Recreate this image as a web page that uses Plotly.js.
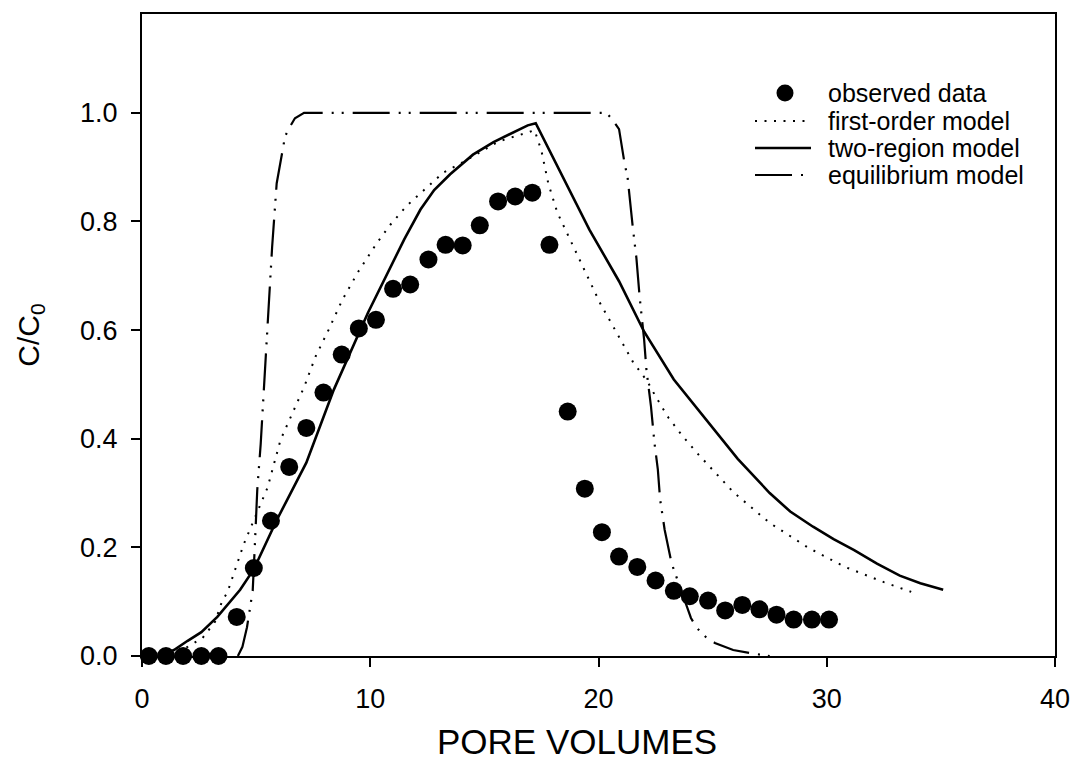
<!DOCTYPE html>
<html>
<head>
<meta charset="utf-8">
<script src="https://cdn.plot.ly/plotly-3.0.1.min.js"></script>
<style>
  html, body { margin: 0; padding: 0; background: #fff; }
  #chart { width: 1076px; height: 772px; }
</style>
</head>
<body>
<div id="chart"></div>
<script>
// Breakthrough curve: relative concentration vs. pore volumes
const obsX = [0.3, 1.05, 1.8, 2.6, 3.35, 4.15, 4.9, 5.65, 6.45, 7.2, 7.95, 8.75, 9.5, 10.25, 11.0, 11.75,
  12.55, 13.3, 14.05, 14.8, 15.6, 16.35, 17.1, 17.85, 18.65, 19.4, 20.15, 20.9, 21.7, 22.5, 23.3, 24.0,
  24.8, 25.55, 26.3, 27.05, 27.8, 28.55, 29.35, 30.1];
const obsY = [0, 0, 0, 0, 0, 0.072, 0.162, 0.249, 0.348, 0.42, 0.485, 0.555, 0.603, 0.619, 0.676, 0.684,
  0.73, 0.757, 0.756, 0.793, 0.837, 0.846, 0.853, 0.757, 0.45, 0.308, 0.228, 0.183, 0.164, 0.139, 0.12, 0.11,
  0.102, 0.084, 0.094, 0.086, 0.076, 0.067, 0.067, 0.067];

const firstOrderX = [1.2, 2.0, 2.65, 3.2, 3.5, 3.75, 4.45, 4.97, 5.5, 6.07, 6.64, 7.1, 7.6, 8.18, 8.78, 9.48,
  10.3, 10.88, 11.6, 12.45, 13.2, 14.1, 15.6, 16.9, 17.2, 17.5, 17.8, 18.2, 18.55, 19.3, 20.1, 20.8, 21.5,
  22.15, 22.5, 23.06, 23.7, 24.4, 25.9, 27.5, 29.2, 30.8, 32.5, 33.7];
const firstOrderY = [0, 0.017, 0.033, 0.063, 0.1, 0.118, 0.205, 0.256, 0.31, 0.398, 0.45, 0.495, 0.551, 0.601,
  0.656, 0.708, 0.761, 0.794, 0.829, 0.862, 0.89, 0.91, 0.947, 0.964, 0.968, 0.93, 0.87, 0.816, 0.785, 0.717,
  0.647, 0.595, 0.542, 0.505, 0.478, 0.439, 0.404, 0.37, 0.302, 0.245, 0.199, 0.164, 0.136, 0.118];

const twoRegionX = [0.8, 1.4, 2.0, 2.6, 3.3, 4.3, 4.9, 5.9, 7.2, 8.4, 9.9, 10.9, 11.5, 12.2, 12.8, 13.5, 14.5,
  15.4, 16.3, 16.9, 17.25, 19.6, 20.9, 21.5, 22.0, 23.3, 24.8, 25.4, 26.1, 27.5, 28.4, 29.4, 30.3, 31.2,
  32.2, 33.2, 34.1, 35.1];
const twoRegionY = [0, 0.011, 0.028, 0.044, 0.072, 0.122, 0.16, 0.25, 0.356, 0.49, 0.632, 0.717, 0.768,
  0.822, 0.858, 0.887, 0.923, 0.946, 0.964, 0.977, 0.981, 0.785, 0.69, 0.64, 0.597, 0.509, 0.43, 0.398,
  0.363, 0.30, 0.266, 0.238, 0.215, 0.195, 0.17, 0.148, 0.134, 0.122];

const equilibriumX = [4.2, 4.4, 4.6, 4.85, 4.94, 5.05, 5.2, 5.33, 5.7, 5.9, 6.1, 6.27, 6.46, 6.7, 7.1, 19.95,
  20.35, 20.6, 20.9, 21.15, 21.27, 21.5, 21.66, 21.8, 22.0, 22.1, 22.3, 22.45, 22.6, 22.7, 22.9, 23.2, 23.6,
  24.05, 24.3, 24.7, 25.1, 25.9, 26.7, 27.5];
const equilibriumY = [0, 0.017, 0.053, 0.12, 0.2, 0.306, 0.39, 0.49, 0.752, 0.87, 0.92, 0.957, 0.973, 0.99,
  1.0, 1.0, 1.0, 0.988, 0.97, 0.905, 0.883, 0.79, 0.733, 0.662, 0.582, 0.527, 0.459, 0.393, 0.343, 0.288,
  0.232, 0.171, 0.122, 0.07, 0.052, 0.035, 0.024, 0.011, 0.005, 0.0];

const xTicks = [0, 10, 20, 30, 40];
const yTicks = [0, 0.2, 0.4, 0.6, 0.8, 1.0];

const FONT = 'Liberation Sans, Arial, Helvetica, sans-serif';
const W = 1076, H = 772;
const M = { l: 142, r: 21, t: 14, b: 116 };

// pixel -> paper coordinate helpers for the key and the axis caption
const px = v => (v - M.l) / (W - M.l - M.r);
const py = v => 1 - (v - M.t) / (H - M.t - M.b);

const styles = {
  'first-order model': { color: '#000', width: 2, dash: '2px,7.5px' },
  'two-region model': { color: '#000', width: 2.6 },
  'equilibrium model': { color: '#000', width: 2.2, dash: '37px,9px,2px,8px,2px,9px' }
};

const traces = [
  { name: 'first-order model', x: firstOrderX, y: firstOrderY, type: 'scatter', mode: 'lines',
    line: styles['first-order model'], cliponaxis: false },
  { name: 'two-region model', x: twoRegionX, y: twoRegionY, type: 'scatter', mode: 'lines',
    line: styles['two-region model'], cliponaxis: false },
  { name: 'equilibrium model', x: equilibriumX, y: equilibriumY, type: 'scatter', mode: 'lines',
    line: styles['equilibrium model'], cliponaxis: false },
  { name: 'observed data', x: obsX, y: obsY, type: 'scatter', mode: 'markers',
    marker: { color: '#000', size: 18, line: { width: 0 } }, cliponaxis: false }
];

// Key: a filled dot for the observations, line samples for the three models
const keyRows = ['observed data', 'first-order model', 'two-region model', 'equilibrium model'];
const keyY = [93, 121, 148, 175];
const shapes = [];
const annotations = [];
keyRows.forEach((name, i) => {
  const yy = py(keyY[i]);
  if (i === 0) {
    shapes.push({ type: 'circle', xref: 'paper', yref: 'paper',
      x0: px(776.5), x1: px(793.5), y0: py(keyY[i] + 8.5), y1: py(keyY[i] - 8.5),
      fillcolor: '#000', line: { width: 0 } });
  } else {
    shapes.push({ type: 'line', xref: 'paper', yref: 'paper',
      x0: px(755), x1: px(811), y0: yy, y1: yy, line: styles[name] });
  }
  annotations.push({ text: name, xref: 'paper', yref: 'paper', x: px(826), y: yy,
    xanchor: 'left', yanchor: 'middle', showarrow: false,
    font: { family: FONT, size: 25, color: '#000' } });
});
annotations.push({ text: 'PORE VOLUMES', xref: 'paper', yref: 'paper', x: px(577), y: py(741),
  xanchor: 'center', yanchor: 'middle', showarrow: false,
  font: { family: FONT, size: 35, color: '#000' } });

const layout = {
  width: W, height: H,
  margin: M,
  paper_bgcolor: '#fff', plot_bgcolor: '#fff',
  font: { family: FONT, color: '#000', size: 27 },
  showlegend: false,
  shapes: shapes,
  annotations: annotations,
  xaxis: {
    range: [0, 40], tickvals: xTicks, ticktext: xTicks.map(String),
    showgrid: false, zeroline: false,
    showline: true, linecolor: '#000', linewidth: 2, mirror: true,
    ticks: 'outside', ticklen: 9, tickwidth: 2, tickcolor: '#000', ticklabelstandoff: 9,
    tickfont: { family: FONT, size: 27, color: '#000' }
  },
  yaxis: {
    range: [0, 1.182], tickvals: yTicks, ticktext: yTicks.map(v => v.toFixed(1)),
    showgrid: false, zeroline: false,
    showline: true, linecolor: '#000', linewidth: 2, mirror: true,
    ticks: 'outside', ticklen: 9, tickwidth: 2, tickcolor: '#000', ticklabelstandoff: 8,
    tickfont: { family: FONT, size: 27, color: '#000' },
    title: { text: 'C/C<sub>0</sub>', font: { family: FONT, size: 30, color: '#000' }, standoff: 32 }
  }
};

Plotly.newPlot('chart', traces, layout, { displayModeBar: false, staticPlot: true });
</script>
</body>
</html>
